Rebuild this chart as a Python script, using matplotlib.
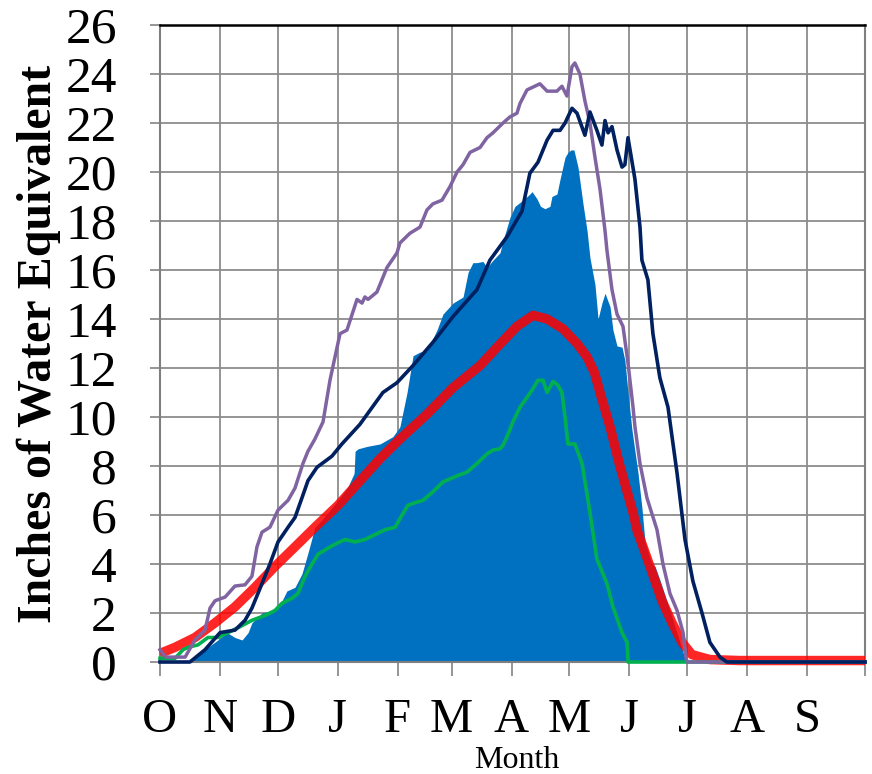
import matplotlib
matplotlib.use("Agg")
import matplotlib.pyplot as plt

# Day of water year (0 = Oct 1) and snow water equivalent (inches)
month_labels = ["O", "N", "D", "J", "F", "M", "A", "M", "J", "J", "A", "S", ""]
month_starts = [0, 31, 61, 92, 123, 151, 182, 212, 243, 273, 304, 335, 365]

current_days = [0, 14.5, 19.7, 24.8, 30.0, 34.7, 38.8, 42.5, 45.6, 47.6, 52.8, 58.0, 63.2, 65.7,
                69.9, 73.5, 76.6, 80.2, 83.9, 87.0, 92.2, 97.3, 100.5, 101.0, 102.5, 107.2,
                113.9, 120.6, 124.2, 127.9, 131.0, 134.6, 138.2, 143.4, 146.5, 151.7, 156.9,
                159.5, 162.0, 164.1, 167.2, 169.3, 172.4, 176.0, 178.0, 181.2, 183.8, 187.9,
                191.5, 192.6, 195.2, 197.0, 199.3, 201.9, 202.9, 205.5, 207.1, 209.7, 211.2,
                212.8, 214.3, 216.4, 219.0, 221.1, 222.6, 225.2, 226.8, 228.8, 230.4, 233.0,
                234.5, 236.6, 239.2, 240.7, 242.3, 244.3, 247.5, 249.5, 251.1, 254.7, 256.3,
                258.8, 262.4, 265.6, 269.2, 271.8, 272.8, 365]
current_swe = [0, 0, 0.25, 0.6, 0.9, 1.2, 1.0, 0.9, 1.2, 1.6, 2.0, 2.1, 2.5, 2.9,
               3.05, 3.6, 4.45, 5.5, 5.8, 6.1, 6.6, 7.15, 7.7, 8.6, 8.7, 8.8,
               8.9, 9.2, 9.6, 11.0, 12.5, 12.65, 12.7, 13.55, 14.2, 14.65, 14.9,
               15.9, 16.3, 16.3, 16.35, 16.1, 16.4, 16.7, 17.3, 18.15, 18.6, 18.85,
               19.1, 19.2, 18.9, 18.6, 18.5, 18.6, 19.0, 19.1, 19.7, 20.6, 20.8,
               20.9, 20.9, 20.2, 18.7, 17.6, 16.5, 15.4, 14.0, 14.65, 15.05, 14.5,
               13.55, 12.9, 12.85, 12.3, 11.0, 9.5, 7.7, 6.3, 4.9, 4.0, 3.9,
               3.35, 2.5, 1.7, 0.8, 0.15, 0, 0]

median_days = [0, 7.8, 18.1, 28.5, 38.8, 49.2, 59.5, 69.9, 80.2, 92.2, 113.9, 124.2, 138.0,
               151.7, 165.7, 174.5, 184.8, 193.1, 200.4, 208.6, 215.9, 221.1, 225.0, 227.8,
               233.0, 238.1, 244.9, 246.9, 250.1, 253.7, 259.9, 265.1, 270.3, 275.4, 284.7,
               300.0, 365]
median_swe = [0.35, 0.6, 1.0, 1.6, 2.25, 3.05, 3.9, 4.7, 5.5, 6.4, 8.3, 9.1, 10.1,
              11.2, 12.1, 12.85, 13.7, 14.15, 14.0, 13.6, 13.0, 12.45, 11.8, 11.0,
              9.6, 8.0, 6.1, 5.4, 4.7, 3.9, 2.5, 1.6, 0.8, 0.3, 0.1,
              0.06, 0.06]

max_days = [0, 3, 13, 18.1, 23.3, 25.9, 28.5, 33.7, 38.8, 44.0, 47.6, 50.2, 52.8, 56.9,
            61.1, 66.3, 69.9, 74.0, 76.6, 80.2, 84.4, 88.0, 93.2, 96.8, 102.0, 104.6,
            106.1, 107.7, 112.3, 117.5, 122.7, 124.2, 129.4, 134.6, 138.2, 141.3, 146.0,
            150.1, 153.8, 156.9, 160.5, 165.7, 169.3, 172.4, 177.6, 181.2, 184.8, 186.4,
            190.0, 196.7, 200.4, 205.5, 208.1, 210.7, 213.3, 214.8, 217.4, 220.0, 222.6,
            225.2, 227.8, 230.4, 231.4, 234.0, 236.6, 239.7, 242.3, 243.3, 244.9, 245.9,
            248.5, 252.1, 257.3, 260.4, 264.0, 267.7, 270.8, 272.4, 273.0, 365]
max_swe = [0.5, 0.2, 0.2, 0.9, 1.3, 2.2, 2.5, 2.65, 3.1, 3.15, 3.5, 4.7, 5.3, 5.5,
           6.2, 6.6, 7.1, 8.1, 8.6, 9.1, 9.8, 11.5, 13.4, 13.55, 14.8, 14.65,
           14.9, 14.8, 15.1, 16.1, 16.7, 17.1, 17.5, 17.75, 18.45, 18.7, 18.85,
           19.4, 20.0, 20.3, 20.8, 21.0, 21.4, 21.6, 22.0, 22.25, 22.4, 22.8,
           23.35, 23.6, 23.3, 23.3, 23.5, 23.1, 24.3, 24.45, 24.0, 22.9, 22.0,
           20.6, 19.3, 17.6, 16.8, 15.2, 14.2, 13.7, 12.2, 11.5, 10.4, 9.6,
           8.1, 6.7, 5.4, 4.0, 2.8, 2.1, 1.2, 0.15, 0, 0]

navy_days = [0, 15.5, 23.3, 31.1, 38.8, 44.0, 47.6, 52.8, 56.9, 61.1, 66.3, 69.9, 73.5,
             76.6, 81.3, 89.0, 94.2, 103.5, 115.4, 122.7, 131.0, 141.3, 151.7, 164.1,
             170.8, 179.6, 187.4, 191.5, 195.7, 200.4, 203.5, 207.1, 209.7, 213.3, 215.9,
             220.0, 222.6, 226.2, 228.8, 230.4, 232.0, 234.0, 236.6, 239.2, 240.7, 242.3,
             245.9, 248.5, 249.5, 252.6, 255.2, 258.8, 263.0, 267.7, 271.8, 275.9, 280.6,
             284.7, 289.9, 293.5, 365]
navy_swe = [0, 0, 0.5, 1.2, 1.3, 1.7, 2.2, 3.2, 4.0, 4.9, 5.5, 5.9, 6.7,
            7.4, 7.95, 8.4, 8.9, 9.7, 11.0, 11.4, 12.1, 13.05, 14.1, 15.2,
            16.4, 17.35, 18.4, 19.95, 20.4, 21.3, 21.7, 21.7, 22.0, 22.6, 22.4,
            21.5, 22.45, 21.7, 21.1, 22.1, 21.6, 21.85, 20.9, 20.2, 20.3, 21.4,
            19.7, 17.75, 16.4, 15.6, 13.4, 11.6, 10.4, 7.7, 5.0, 3.3, 2.0,
            0.8, 0.2, 0, 0]

min_days = [0, 7.8, 11.9, 14.5, 19.7, 24.8, 30.0, 35.2, 40.4, 47.6, 54.4, 59.5, 63.2, 68.3,
            71.4, 75.1, 78.7, 81.8, 87.0, 91.6, 95.8, 101.0, 106.1, 111.3, 116.5, 121.7,
            125.3, 128.4, 132.0, 136.2, 141.3, 146.5, 153.8, 158.9, 164.1, 169.3, 172.4,
            176.0, 177.6, 180.2, 182.7, 186.4, 190.0, 192.6, 195.7, 198.3, 200.4, 203.5,
            206.0, 208.1, 209.7, 211.2, 214.8, 218.5, 222.6, 226.2, 231.4, 234.5, 239.2,
            241.8, 242.3, 365]
min_swe = [0.15, 0.15, 0.5, 0.6, 0.7, 1.0, 1.0, 1.2, 1.4, 1.7, 1.9, 2.1, 2.4, 2.6,
           2.8, 3.5, 4.0, 4.4, 4.65, 4.85, 5.0, 4.9, 5.0, 5.2, 5.4, 5.5,
           6.0, 6.4, 6.5, 6.6, 6.95, 7.35, 7.6, 7.75, 8.1, 8.5, 8.65,
           8.7, 8.85, 9.3, 9.8, 10.4, 10.8, 11.1, 11.5, 11.5, 11.0, 11.45,
           11.3, 11.0, 10.0, 8.9, 8.9, 8.1, 6.1, 4.2, 3.2, 2.25, 1.2,
           0.8, 0, 0]

y_ticks = list(range(0, 27, 2))

plt.rcParams["font.family"] = ["Liberation Serif", "DejaVu Serif"]

fig = plt.figure(figsize=(8.72, 7.74), dpi=100)
ax = fig.add_axes([160 / 872, 1 - 662 / 774, 705 / 872, 637 / 774])

ax.fill_between(current_days, current_swe, 0, color="#0070C0", linewidth=0, zorder=2)
ax.plot(median_days, median_swe, color="#FF0000", alpha=0.85, linewidth=6.8,
        solid_capstyle="butt", zorder=3, clip_on=False)
ax.plot(min_days, min_swe, color="#00B050", linewidth=2.6, zorder=4, clip_on=False)
ax.plot(max_days, max_swe, color="#8064A2", linewidth=2.5, zorder=5, clip_on=False)
ax.plot(navy_days, navy_swe, color="#002060", linewidth=2.6, zorder=6, clip_on=False)

ax.set_xlim(0, 365)
ax.set_ylim(0, 26)
ax.set_xticks(month_starts)
ax.set_xticklabels(month_labels)
ax.set_yticks(y_ticks)
ax.set_axisbelow(True)
ax.grid(True, color="#8C8C8C", linewidth=1.3)

for side in ["left", "bottom", "right"]:
    ax.spines[side].set_color("#7F7F7F")
    ax.spines[side].set_linewidth(1.5)
ax.spines["top"].set_color("black")
ax.spines["top"].set_linewidth(1.8)

ax.tick_params(axis="x", direction="out", length=10, width=1.3, color="#8C8C8C",
               labelsize=35, pad=16)
ax.tick_params(axis="y", direction="out", length=7, width=1.3, color="#8C8C8C",
               labelsize=37, pad=24)

ax.set_ylabel("Inches of Water Equivalent", fontsize=34.5, fontweight="bold")
ax.yaxis.set_label_coords(-0.140, 0.5)
fig.text(517 / 872, 1 - 760 / 774, "Month", fontsize=23, ha="center", va="center")

fig.savefig("out.png", dpi=100)
